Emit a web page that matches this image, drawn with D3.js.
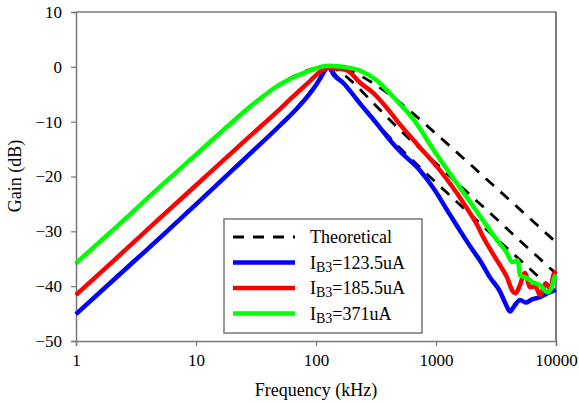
<!DOCTYPE html>
<html>
<head>
<meta charset="utf-8">
<script src="https://cdn.jsdelivr.net/npm/d3@7"></script>
<style>
  body { margin: 0; background: #fff; }
</style>
</head>
<body>
<div id="chart"></div>
<script>
// Gain vs frequency, measured and theoretical

const xTicks = [1, 10, 100, 1000, 10000];
const yTicks = [-50, -40, -30, -20, -10, 0, 10];

// theoretical curves (dashed)
const theoFreq = [1, 2, 5, 10, 20, 50, 70, 100, 125, 150, 200, 300, 500, 700, 1000, 2000, 3000, 5000, 7000, 10000];
const theoUpper = [-35.9, -29.9, -21.9, -16.0, -10.1, -3.2, -1.4, -0.2, 0, -0.1, -0.9, -3.0, -6.5, -9.2, -12.2, -18.1, -21.6, -26.0, -28.9, -32.0];
const theoMiddle = [-41.6, -35.6, -27.6, -21.6, -15.6, -7.6, -4.6, -1.6, 0, -0.6, -2.7, -6.6, -11.5, -14.5, -17.6, -23.7, -27.2, -31.7, -34.6, -37.7];
const theoLower = [-45.1, -39.1, -31.1, -25.1, -18.9, -10.6, -7.4, -3.2, 0, -1.8, -4.9, -9.6, -14.8, -17.9, -21.1, -27.2, -30.8, -35.2, -38.1, -41.2];

// measured, IB3 = 123.5uA
const blueFreq = [1, 2, 3, 5, 10, 20, 30, 50, 70, 90, 100, 110, 120, 127, 140, 168, 233, 322, 437, 501, 736, 944, 1310, 1525, 2034, 2326, 2818, 3400, 3800, 4140, 4500, 5012, 5600, 6300, 7356, 8500, 10000];
const blueGain = [-45.1, -39.1, -35.6, -31.2, -25.1, -18.9, -15.3, -10.7, -7.5, -4.7, -3.3, -1.9, -0.5, 0, -1.4, -2.9, -6.7, -10.4, -14.0, -15.4, -18.9, -22.0, -27.0, -29.3, -33.5, -35.3, -38.4, -40.9, -43.2, -44.6, -43.6, -42.5, -43.0, -42.4, -42.0, -41.3, -40.7];

// measured, IB3 = 185.5uA
const redFreq = [1, 2, 5, 10, 20, 30, 50, 61, 89, 110, 125, 150, 180, 233, 298, 400, 501, 736, 1080, 1500, 1810, 2200, 2466, 3222, 3908, 4300, 4600, 5012, 5500, 6100, 6700, 7356, 8200, 9000, 9500, 10000];
const redGain = [-41.6, -35.6, -27.6, -21.6, -15.6, -12.1, -7.7, -5.9, -2.6, -0.8, -0.2, -0.3, -0.6, -2.9, -4.7, -7.8, -10.5, -14.7, -18.9, -23.1, -25.8, -28.8, -31.0, -35.3, -38.4, -40.7, -41.3, -39.8, -37.6, -40.2, -40.0, -41.6, -39.5, -40.5, -38.0, -37.3];

// measured, IB3 = 371uA
const greenFreq = [1, 2, 5, 10, 20, 30, 50, 61, 89, 110, 127, 150, 181, 233, 322, 400, 501, 645, 736, 944, 1310, 1810, 2466, 3222, 3908, 4300, 4800, 5012, 5700, 6400, 7356, 8500, 9200, 9700, 10000];
const greenGain = [-35.8, -29.9, -21.9, -16.0, -10.1, -6.8, -3.2, -2.2, -0.7, 0.0, 0.2, 0.1, -0.1, -0.7, -2.5, -4.5, -6.8, -9.5, -11.3, -15.0, -19.5, -23.8, -28.0, -31.6, -34.0, -35.6, -35.3, -38.0, -38.5, -39.3, -39.8, -41.1, -40.2, -38.4, -38.0];

const legendLabels = ["Theoretical", "=123.5uA", "=185.5uA", "=371uA"];

const serif = '"Liberation Serif"';
const width = 579, height = 403;
const svg = d3.select("#chart").append("svg")
  .attr("width", width)
  .attr("height", height);

const x = d3.scaleLog().domain([1, 10000]).range([76, 556]);
const y = d3.scaleLinear().domain([-50, 10]).range([341, 12]);

const line = d3.line()
  .x(d => x(d[0]))
  .y(d => y(d[1]))
  .curve(d3.curveMonotoneX);

const zip = (f, g) => f.map((v, i) => [v, g[i]]);

// frame
svg.append("line").attr("x1", 76).attr("x2", 556).attr("y1", 12).attr("y2", 12)
  .attr("stroke", "#777").attr("stroke-width", 1.5);
svg.append("line").attr("x1", 556).attr("x2", 556).attr("y1", 12).attr("y2", 341)
  .attr("stroke", "#000").attr("stroke-width", 1);

// axes
const xAxis = svg.append("g")
  .attr("transform", "translate(0,341)")
  .call(d3.axisBottom(x).tickValues(xTicks).tickFormat(d3.format("d")).tickSize(5).tickPadding(8));
const yAxis = svg.append("g")
  .attr("transform", "translate(76,0)")
  .call(d3.axisLeft(y).tickValues(yTicks).tickSize(5).tickPadding(9));

[xAxis, yAxis].forEach(a => {
  a.select(".domain").attr("stroke", "#777").attr("stroke-width", 1.5);
  a.selectAll(".tick line").attr("stroke", "#777").attr("stroke-width", 1.2);
  a.selectAll(".tick text").attr("fill", "#000").style("font-size", "17px");
});

// theoretical dashed
[theoUpper, theoMiddle, theoLower].forEach(g => {
  svg.append("path")
    .attr("d", line(zip(theoFreq, g)))
    .attr("fill", "none")
    .attr("stroke", "#000")
    .attr("stroke-width", 2.8)
    .attr("stroke-dasharray", "11,9");
});

// measured
const series = [
  { f: blueFreq, g: blueGain, c: "#0000ff" },
  { f: redFreq, g: redGain, c: "#ff0000" },
  { f: greenFreq, g: greenGain, c: "#00ff00" }
];
series.forEach(s => {
  svg.append("path")
    .attr("d", line(zip(s.f, s.g)))
    .attr("fill", "none")
    .attr("stroke", s.c)
    .attr("stroke-width", 4.5)
    .attr("stroke-linejoin", "round");
});

// axis titles
svg.append("text")
  .attr("x", 316).attr("y", 396)
  .attr("text-anchor", "middle")
  .style("font-size", "18px")
  .text("Frequency (kHz)");
svg.append("text")
  .attr("transform", "translate(21,176) rotate(-90)")
  .attr("text-anchor", "middle")
  .style("font-size", "18px")
  .text("Gain (dB)");

// legend
const lg = svg.append("g");
lg.append("rect")
  .attr("x", 224).attr("y", 219).attr("width", 198).attr("height", 114)
  .attr("fill", "#fff").attr("stroke", "#777").attr("stroke-width", 1.5);

const legendRows = [
  { c: "#000", dash: "11,9", w: 2.8 },
  { c: "#0000ff", dash: null, w: 4.5 },
  { c: "#ff0000", dash: null, w: 4.5 },
  { c: "#00ff00", dash: null, w: 4.5 }
];
legendRows.forEach((r, i) => {
  const yy = 237 + i * 25.5;
  lg.append("line")
    .attr("x1", 233).attr("x2", 295).attr("y1", yy).attr("y2", yy)
    .attr("stroke", r.c).attr("stroke-width", r.w)
    .attr("stroke-dasharray", r.dash);
  const t = lg.append("text")
    .attr("x", 310).attr("y", yy + 6)
    .style("font-size", "18px");
  if (i === 0) {
    t.text(legendLabels[0]);
  } else {
    t.append("tspan").text("I");
    t.append("tspan").attr("dy", 3).style("font-size", "14px").text("B3");
    t.append("tspan").attr("dy", -3).text(legendLabels[i]);
  }
});

// serif everywhere
svg.selectAll("text").style("font-family", serif);
</script>
</body>
</html>
